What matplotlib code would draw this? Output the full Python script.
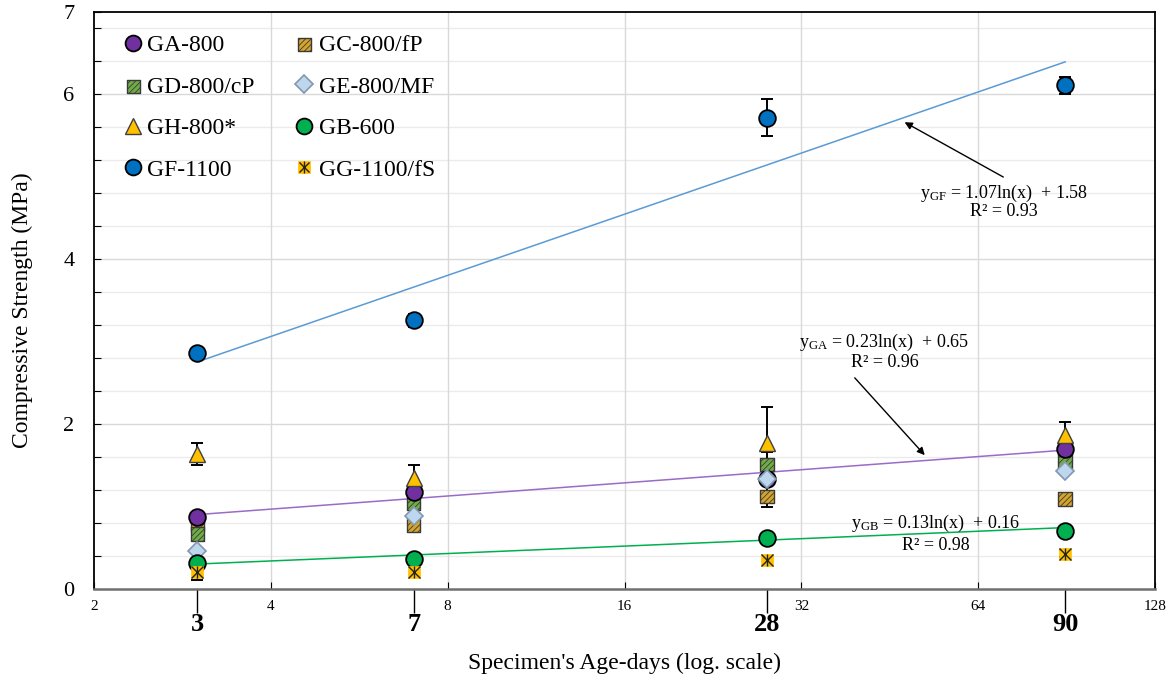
import numpy as np
import matplotlib
matplotlib.use("Agg")
import matplotlib.pyplot as plt
from matplotlib.lines import Line2D
from matplotlib.ticker import FixedLocator, NullFormatter, FixedFormatter

plt.rcParams['font.family'] = ['Liberation Serif', 'DejaVu Serif']
plt.rcParams['mathtext.fontset'] = 'custom'
plt.rcParams['mathtext.rm'] = 'Liberation Serif'
plt.rcParams['hatch.linewidth'] = 0.6

# ---------------- data ----------------
days = [3, 7, 28, 90]

ga = [0.87, 1.18, 1.33, 1.70]
gc = [0.79, 0.77, 1.12, 1.09]
gd = [0.67, 1.04, 1.51, 1.55]
ge = [0.46, 0.88, 1.33, 1.43]
gh = [1.64, 1.35, 1.77, 1.87]
gb = [0.32, 0.37, 0.62, 0.70]
gf = [2.86, 3.26, 5.72, 6.11]
gg = [0.21, 0.21, 0.35, 0.43]

ga_err = [0.0, 0.0, 0.33, 0.0]
gh_err = [0.13, 0.15, 0.44, 0.16]
gf_err = [0.03, 0.08, 0.23, 0.10]
gg_err = [0.10, 0.0, 0.0, 0.04]

# log trend-line coefficients (y = a ln(x) + b) as reported
gf_fit = (1.07, 1.58, 0.93)
ga_fit = (0.23, 0.65, 0.96)
gb_fit = (0.13, 0.16, 0.98)

major_x = [2, 4, 8, 16, 32, 64, 128]
y_major = [0, 2, 4, 6, 7]
# --------------------------------------

fig = plt.figure(figsize=(11.72, 6.81), dpi=100)
ax = fig.add_axes([94/1172, 1 - 589/681, (1155-94)/1172, (589-12)/681])

ax.set_xscale('log', base=2)
ax.set_xlim(2, 128)
ax.set_ylim(0, 7)

# grid
for v in np.arange(0.4, 7.0, 0.4):
    c = '#D9D9D9' if abs(v/2 - round(v/2)) < 1e-6 else '#EBEBEB'
    ax.axhline(v, color=c, lw=1.0, zorder=0)
for v in major_x[1:-1]:
    ax.axvline(v, color='#D9D9D9', lw=1.0, zorder=0)

# trend lines
xs = np.linspace(days[0], days[-1], 200)
for (a, b, _), col in [(gf_fit, '#5B9BD5'), (ga_fit, '#9B6BC8'), (gb_fit, '#00B050')]:
    ax.plot(xs, a*np.log(xs) + b, color=col, lw=1.1, zorder=2)

# error bars
def ebar(x, y, e):
    x = np.array(x); y = np.array(y); e = np.array(e)
    m = e > 0
    ax.errorbar(x[m], y[m], yerr=e[m], fmt='none', ecolor='black',
                elinewidth=1.4, capsize=4, capthick=1.4, zorder=2.5)

ebar(days, ga, ga_err)
ebar(days, gh, gh_err)
ebar(days, gf, gf_err)
ebar(days, gg, gg_err)

ms_c = 12
# markers
h_gc = ax.scatter(days, gc, marker='s', s=95, facecolor='#D4A52A', edgecolor='#3a3a3a',
                  hatch='//////', linewidths=1.0, zorder=3)
h_gd = ax.scatter(days, gd, marker='s', s=95, facecolor='#70AD47', edgecolor='#3a3a3a',
                  hatch='//////', linewidths=1.0, zorder=3.1)
h_ga, = ax.plot(days, ga, 'o', ms=ms_c, mfc='#7030A0', mec='black', mew=1.3, ls='none', zorder=3.2)
h_ge, = ax.plot(days, ge, 'D', ms=9.5, mfc='#BDD7EE', mec='#8497B0', mew=1.2, ls='none', zorder=3.3)
h_gh, = ax.plot(days, gh, '^', ms=12, mfc='#FFC000', mec='#404040', mew=1.0, ls='none', zorder=3.4)
h_gb, = ax.plot(days, gb, 'o', ms=ms_c, mfc='#00B050', mec='black', mew=1.3, ls='none', zorder=3.5)
h_gf, = ax.plot(days, gf, 'o', ms=ms_c, mfc='#0070C0', mec='black', mew=1.3, ls='none', zorder=3.6)
g1, = ax.plot(days, gg, 's', ms=9, mfc='#FFC000', mec='#FFC000', mew=0.5, ls='none', zorder=3.7)
g2, = ax.plot(days, gg, 'x', ms=8, mec='#222222', mew=1.0, ls='none', zorder=3.8)
g3, = ax.plot(days, gg, '|', ms=9, mec='#222222', mew=1.0, ls='none', zorder=3.8)

# legend (column-major order)
handles = [h_ga, h_gd, h_gh, h_gf, h_gc, h_ge, h_gb, (g1, g2, g3)]
labels = ['GA-800', 'GD-800/cP', 'GH-800*', 'GF-1100',
          'GC-800/fP', 'GE-800/MF', 'GB-600', 'GG-1100/fS']
leg = ax.legend(handles, labels, ncol=2, loc='upper left', bbox_to_anchor=(0.008, 0.998),
                frameon=False, fontsize=17, handlelength=0.8, handletextpad=0.2,
                labelspacing=0.85, columnspacing=1.7, markerscale=0.95, scatterpoints=1)

# ticks
ax.xaxis.set_major_locator(FixedLocator(major_x))
ax.xaxis.set_major_formatter(FixedFormatter([str(v) for v in major_x]))
ax.xaxis.set_minor_locator(FixedLocator(days))
ax.xaxis.set_minor_formatter(FixedFormatter([str(v) for v in days]))
ax.tick_params(axis='x', which='major', direction='in', length=5, width=0.8,
               labelsize=11, pad=8, colors='black')
ax.tick_params(axis='x', which='minor', direction='out', length=17, width=1.0,
               labelsize=19, pad=0)
for t in ax.xaxis.get_minorticklabels():
    t.set_fontweight('bold')

ax.yaxis.set_major_locator(FixedLocator(y_major))
ax.yaxis.set_major_formatter(FixedFormatter([str(v) for v in y_major]))
ax.yaxis.set_minor_locator(FixedLocator(list(np.arange(0.4, 7.0, 0.4))))
ax.tick_params(axis='y', which='major', direction='in', length=5, width=0.8,
               labelsize=16, pad=14)
ax.tick_params(axis='y', which='minor', direction='in', length=5, width=0.8)

for s in ['top', 'right', 'left']:
    ax.spines[s].set_color('black')
    ax.spines[s].set_linewidth(1.3)
ax.spines['bottom'].set_color('#707070')
ax.spines['bottom'].set_linewidth(1.8)

fig.text(22/1172, 1 - 310/681, 'Compressive Strength (MPa)', rotation=90,
         ha='center', va='center', fontsize=17)
fig.text((94+1155)/2/1172, 1 - 663/681, "Specimen's Age-days (log. scale)",
         ha='center', va='center', fontsize=17)

# annotations
fs = 13
def eq_text(xf, y1, y2, sub, fit):
    a, b, r2 = fit
    ax.text(xf, y1, r'$\mathregular{y_{%s}}$ = %.2fln(x)  + %.2f' % (sub, a, b),
            transform=ax.transAxes, ha='center', va='center', fontsize=fs, zorder=5)
    ax.text(xf, y2, 'R² = %.2f' % r2, transform=ax.transAxes,
            ha='center', va='center', fontsize=fs, zorder=5)

eq_text(0.858, 0.686, 0.655, 'GF', gf_fit)
eq_text(0.745, 0.428, 0.393, 'GA', ga_fit)
eq_text(0.793, 0.114, 0.076, 'GB', gb_fit)

arw = dict(arrowstyle='-|>', color='black', lw=1.0, mutation_scale=11, shrinkA=0, shrinkB=0)
ax.annotate('', xy=(0.764, 0.809), xycoords='axes fraction',
            xytext=(0.857, 0.714), textcoords='axes fraction', arrowprops=arw)
ax.annotate('', xy=(0.783, 0.232), xycoords='axes fraction',
            xytext=(0.717, 0.366), textcoords='axes fraction', arrowprops=arw)

fig.savefig('out.png', dpi=100)
